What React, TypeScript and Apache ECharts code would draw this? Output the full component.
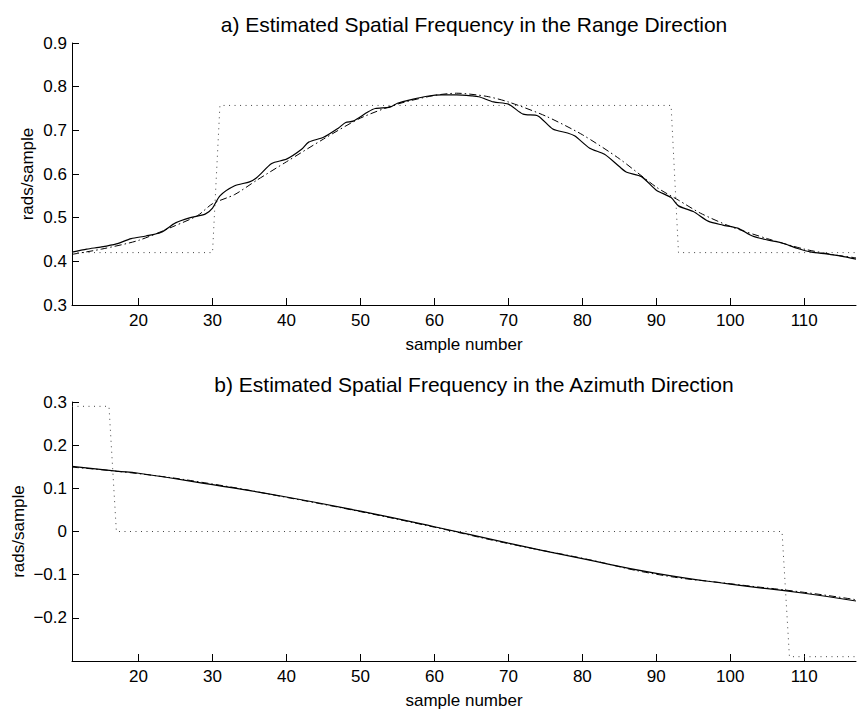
import React, { useEffect, useRef } from "react";
import * as echarts from "echarts";

// ---- data ----
const xTicks = [20, 30, 40, 50, 60, 70, 80, 90, 100, 110];

// a) Range direction
const rangeEstX = [11, 13, 15, 17, 19, 21, 23, 25, 27, 29, 30, 31, 33, 35, 36, 38, 40, 42, 43, 45, 47, 48, 49, 51, 52, 54, 55, 57, 59, 61, 63, 65, 66, 68, 70, 72, 74, 76, 78, 79, 81, 83, 85, 86, 88, 90, 92, 93, 95, 97, 99, 101, 103, 105, 107, 109, 111, 113, 115, 117];
const rangeEstY = [0.421, 0.428, 0.433, 0.44, 0.452, 0.458, 0.466, 0.488, 0.5, 0.508, 0.522, 0.55, 0.573, 0.582, 0.592, 0.624, 0.634, 0.656, 0.673, 0.684, 0.705, 0.718, 0.721, 0.742, 0.75, 0.753, 0.762, 0.771, 0.778, 0.781, 0.781, 0.779, 0.777, 0.765, 0.76, 0.737, 0.733, 0.703, 0.694, 0.687, 0.659, 0.645, 0.617, 0.604, 0.594, 0.563, 0.546, 0.527, 0.514, 0.492, 0.483, 0.476, 0.458, 0.449, 0.442, 0.43, 0.421, 0.417, 0.412, 0.405];
const rangeTrueX = [11, 15, 20, 25, 28, 30, 33, 36, 40, 45, 50, 55, 60, 63, 67, 70, 75, 80, 85, 90, 93, 96, 100, 105, 110, 114, 117];
const rangeTrueY = [0.416, 0.428, 0.448, 0.482, 0.505, 0.532, 0.553, 0.586, 0.628, 0.68, 0.728, 0.76, 0.78, 0.785, 0.778, 0.765, 0.733, 0.69, 0.635, 0.57, 0.54, 0.51, 0.48, 0.452, 0.428, 0.415, 0.408];
const rangeStepX = [11, 30, 31, 92, 93, 117];
const rangeStepY = [0.42, 0.42, 0.757, 0.757, 0.42, 0.42];

// b) Azimuth direction
const azEstX = [11, 17, 20, 30, 40, 50, 60, 70, 80, 90, 100, 110, 117];
const azEstY = [0.151, 0.14, 0.135, 0.1085, 0.08, 0.047, 0.011, -0.027, -0.063, -0.097, -0.122, -0.143, -0.161];
const azTrueX = [11, 20, 30, 40, 50, 60, 70, 80, 90, 100, 110, 117];
const azTrueY = [0.149, 0.134, 0.11, 0.079, 0.046, 0.01, -0.028, -0.062, -0.099, -0.121, -0.141, -0.158];
const azStepX = [11, 16, 17, 107, 108, 117];
const azStepY = [0.29, 0.29, 0, 0, -0.29, -0.29];

const titles = [
  "a) Estimated Spatial Frequency in the Range Direction",
  "b) Estimated Spatial Frequency in the Azimuth Direction",
];

const zip = (xs: number[], ys: number[]) => xs.map((x, i) => [x, ys[i]]);

const FONT = "Liberation Sans, Arial, Helvetica, sans-serif";

export default function App() {
  const ref = useRef<HTMLDivElement>(null);
  useEffect(() => {
    if (!ref.current) return;
    const chart = echarts.init(ref.current, null, { renderer: "svg" });
    const axisLine = { show: true, onZero: false, lineStyle: { color: "#000", width: 1 } };
    const axisTick = { show: true, inside: true, length: 7, lineStyle: { color: "#000", width: 1 } };
    const labelStyle = { color: "#000", fontSize: 17, fontFamily: FONT };
    const nameStyle = { color: "#000", fontSize: 17, fontFamily: FONT };
    const xAxis = (gi: number) => ({
      type: "value",
      gridIndex: gi,
      min: 11,
      max: 117,
      name: "sample number",
      nameLocation: "middle",
      nameGap: 31,
      nameMoveOverlap: false,
      nameTextStyle: nameStyle,
      axisLine,
      axisTick: { ...axisTick, customValues: xTicks },
      axisLabel: { ...labelStyle, margin: 7, customValues: xTicks },
      splitLine: { show: false },
    });
    const yAxis = (gi: number, min: number, max: number) => ({
      type: "value",
      gridIndex: gi,
      min,
      max,
      interval: 0.1,
      name: "rads/sample",
      nameLocation: "middle",
      nameGap: gi === 0 ? 36 : 45,
      nameMoveOverlap: false,
      nameTextStyle: nameStyle,
      axisLine,
      axisTick,
      axisLabel: {
        ...labelStyle,
        margin: 5,
        formatter: (v: number) => {
          if (gi === 1 && Math.abs(v + 0.3) < 1e-9) return "";
          if (Math.abs(v) < 1e-9) return "0";
          const s = Math.abs(v).toFixed(1);
          return v < 0 ? "\u2212" + s : s;
        },
      },
      splitLine: { show: false },
    });
    const line = (name: string, gi: number, data: number[][], kind: string) => ({
      name,
      type: "line",
      xAxisIndex: gi,
      yAxisIndex: gi,
      data,
      showSymbol: false,
      smooth: kind === "step" ? false : gi === 0 ? 0.25 : 0.5,
      silent: true,
      lineStyle:
        kind === "step"
          ? { color: "#444", width: 1, type: [1, 4.5] }
          : kind === "true"
          ? { color: "#000", width: 1, type: [7, 3, 1.5, 3] }
          : { color: "#000", width: 1.2, type: "solid" },
      z: kind === "est" ? 3 : 2,
    });
    const titleStyle = { color: "#000", fontSize: 21, fontWeight: "normal", fontFamily: FONT };
    chart.setOption({
      animation: false,
      backgroundColor: "#fff",
      title: [
        { text: titles[0], left: 469, top: 9, textAlign: "center", textStyle: titleStyle },
        { text: titles[1], left: 469, top: 369, textAlign: "center", textStyle: titleStyle },
      ],
      grid: [
        { left: 72, top: 43, width: 784, height: 262 },
        { left: 72, top: 402, width: 784, height: 263 },
      ],
      xAxis: [xAxis(0), xAxis(1)],
      yAxis: [yAxis(0, 0.3, 0.9), yAxis(1, -0.3, 0.3)],
      series: [
        line("true range step", 0, zip(rangeStepX, rangeStepY), "step"),
        line("true range", 0, zip(rangeTrueX, rangeTrueY), "true"),
        line("estimated range", 0, zip(rangeEstX, rangeEstY), "est"),
        line("true azimuth step", 1, zip(azStepX, azStepY), "step"),
        line("true azimuth", 1, zip(azTrueX, azTrueY), "true"),
        line("estimated azimuth", 1, zip(azEstX, azEstY), "est"),
      ],
    });
    return () => chart.dispose();
  }, []);
  return (
    <div
      ref={ref}
      style={{ position: "fixed", left: 0, top: 0, width: 859, height: 710, background: "#fff" }}
    />
  );
}
